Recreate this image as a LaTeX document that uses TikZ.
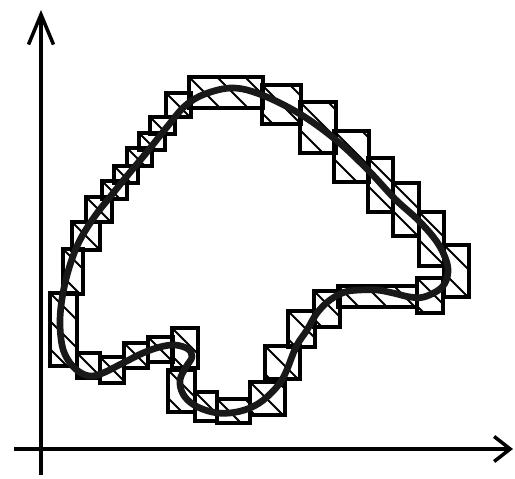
\documentclass[tikz,border=0pt]{standalone}
\usepackage{tikz}
\usetikzlibrary{arrows.meta}
\tikzset{
  axis/.style={line width=2pt,-{Straight Barb[length=6mm,width=5mm,line width=2pt]}},
  cell/.style={line width=2.1pt,draw=black},
  hatchline/.style={line width=1.2pt},
  contour/.style={line width=3.8pt,line join=round,draw=black!90}
}

\begin{document}
\begin{tikzpicture}[x=0.02cm,y=-0.02cm]
  \useasboundingbox (0,0) rectangle (515,479);
  % axes
  \coordinate (origin) at (41,449);
  \coordinate (xend) at (513,449);
  \coordinate (yend) at (41,10);
  \draw[axis] (origin) ++(0,26) -- (yend);
  \draw[axis,-{Straight Barb[length=3.2mm,width=5mm,line width=2pt]}] (14,449) -- (xend);
  % covering cells
  \def\celllist{72/222/100/250, 86/197/112/222, 102/181/127/199, 114/166/138/183,
    127/148/152/166, 139/133/165/150, 150/117/175/134, 166/93/191/117,
    189/77/263/108, 262/85/301/124, 300/102/336/153, 334/131/369/182,
    368/158/393/212, 393/183/419/236, 419/212/444/266, 444/245/469/297,
    417/278/443/313, 338/286/417/307, 314/291/340/327, 288/311/315/347,
    265/346/300/379, 250/382/285/415, 217/399/250/423, 195/392/217/421,
    168/370/195/412, 172/328/198/368, 148/337/173/362, 124/343/148/368,
    100/357/124/383, 77/353/100/378, 50/293/77/366, 63/249/83/294}
  \foreach \xa/\ya/\xb/\yb in \celllist {
    \begin{scope}
      \clip (\xa,\ya) rectangle (\xb,\yb);
      \foreach \k in {-3,...,3}
        \draw[hatchline] (\xa+\k*28,\ya) -- ++(120,120);
    \end{scope}
  }
  \foreach \xa/\ya/\xb/\yb in \celllist
    \draw[cell] (\xa,\ya) rectangle (\xb,\yb);
  % the region boundary
  \draw[contour] plot[smooth cycle,tension=0.6] coordinates {
    (63,293) (70,265) (80,240) (95,216) (110,197) (127,176) (147,152)
    (167,127) (185,106) (205,94) (233,88) (262,95) (300,114) (336,140)
    (368,170) (395,199) (418,220) (437,242) (447,263) (447,278) (440,289)
    (424,297) (410,297) (393,293) (377,290) (360,290) (345,292) (330,300)
    (317,313) (307,330) (296,347) (283,378) (267,397) (250,408) (230,413)
    (212,412) (194,405) (183,394) (180,380) (186,367) (192,357) (188,349)
    (175,345) (160,347) (143,353) (123,363) (103,373) (90,376) (78,371)
    (68,360) (62,345) (60,320)};
\end{tikzpicture}
\end{document}
